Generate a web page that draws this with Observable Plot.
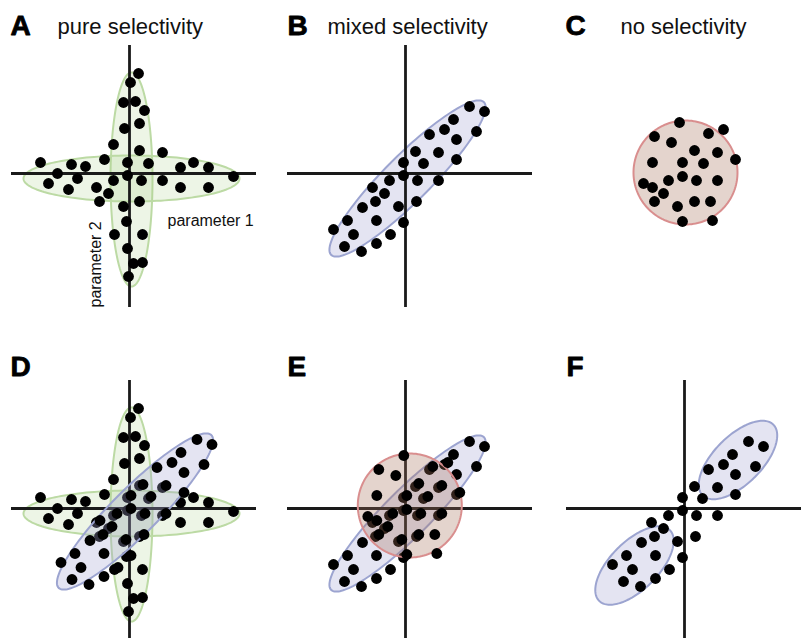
<!DOCTYPE html>
<html><head><meta charset="utf-8">
<script src="https://cdn.jsdelivr.net/npm/d3@7"></script>
<script src="https://cdn.jsdelivr.net/npm/@observablehq/plot@0.6"></script>
<style>
body{margin:0;background:#fff;}
#chart{position:relative;width:801px;height:638px;overflow:hidden;}
#chart svg{position:absolute;}
</style></head><body><div id="chart"></div>
<script>
// ---- text ----
const panelLetters = ["A", "B", "C", "D", "E", "F"];
const panelTitles = ["pure selectivity", "mixed selectivity", "no selectivity", "", "", ""];
const axisLabels = ["parameter 1", "parameter 2"];

// ---- responses (parameter 1, parameter 2) ----
const pureDots = [[9,100],[1,91],[-6,71],[6,72],[15,63],[10,50],[-5,45],[-16,29],[10,23],[33,21],
  [-89,11],[-58,9],[-44,7],[-25,14],[-2,11],[19,10],[51,6],[64,11],[79,6],[104,-3],
  [-72,0],[-52,-5],[-81,-10],[-61,-16],[-33,-14],[-16,-7],[-2,-2],[12,-7],[33,-7],[51,-14],
  [79,-14],[-21,-20],[-30,-28],[-6,-33],[10,-28],[-3,-48],[-15,-61],[13,-61],[-2,-75],[4,-90],
  [13,-89],[-1,-103]];
const mixedDots = [[64,67],[79,62],[48,54],[39,44],[24,39],[51,34],[71,42],[10,22],[33,21],[-2,11],
  [18,10],[51,14],[-2,-2],[-16,-7],[12,-7],[33,-7],[-33,-14],[-21,-20],[-30,-28],[-43,-34],
  [-7,-33],[11,-28],[-58,-47],[-29,-47],[-2,-49],[-72,-56],[-52,-61],[-15,-61],[-61,-73],[-44,-78],
  [-29,-70]];
const noneDots = [[-5,51],[39,44],[24,40],[-30,37],[-13,31],[10,23],[33,21],[51,14],[-32,11],[-2,11],
  [19,10],[-2,-3],[-16,-7],[12,-7],[33,-7],[-41,-10],[-32,-14],[-21,-20],[-30,-28],[-7,-33],
  [10,-28],[26,-28],[-2,-48],[28,-47]];

// ---- distributions: center, radii, rotation (deg) ----
const pureEllipses = [{cx:2, cy:-6, rx:21, ry:107, angle:0}, {cx:2, cy:-5, rx:108, ry:23, angle:0}];
const mixedEllipses = [{cx:2, cy:-5, rx:108, ry:23, angle:45}];
const noneEllipses = [{cx:1, cy:1, rx:52, ry:52, angle:0}];
const splitEllipses = [{cx:53.5, cy:48.5, rx:50, ry:24, angle:45}, {cx:-50, cy:-57, rx:50, ry:24, angle:45}];

// ---- axis extents ----
const axesTop = {x: [-118, 127], y: [-134, 128]};
const axesBottom = {x: [-118, 127], y: [-132, 128]};
const axesBottomRight = {x: [-118, 118], y: [-132, 128]};

// ---- styles ----
const green = {fill: "#a3cc84", fillOpacity: 0.2, stroke: "#bcdaa4"};
const blue = {fill: "#a5a5d4", fillOpacity: 0.3, stroke: "#9ca4d0"};
const red = {fill: "#a56f58", fillOpacity: 0.3, stroke: "#d98e8e"};

function ellipsePoints(e, id) {
  const pts = [], t = e.angle * Math.PI / 180, n = 160;
  for (let i = 0; i < n; i++) {
    const a = 2 * Math.PI * i / n;
    const u = e.rx * Math.cos(a), v = e.ry * Math.sin(a);
    pts.push({id, x: e.cx + u * Math.cos(t) - v * Math.sin(t), y: e.cy + u * Math.sin(t) + v * Math.cos(t)});
  }
  return pts;
}

const layout = [
  {cell:[0,0,270,340], origin:[129,173], axes:axesTop, letter:[10,34], title:[57,33], params:true,
   layers:[{ellipses:pureEllipses, style:green, dots:pureDots}]},
  {cell:[270,0,270,340], origin:[405,173], axes:axesTop, letter:[17,34], title:[57,33],
   layers:[{ellipses:mixedEllipses, style:blue, dots:mixedDots}]},
  {cell:[540,0,261,340], origin:[684,173], axes:null, letter:[25,34], title:[80,33],
   layers:[{ellipses:noneEllipses, style:red, dots:noneDots}]},
  {cell:[0,340,270,298], origin:[129,508], axes:axesBottom, letter:[10,35],
   layers:[{ellipses:pureEllipses, style:green, dots:pureDots},
           {ellipses:mixedEllipses, style:blue, dots:mixedDots, shift:[3.5,-2]}]},
  {cell:[270,340,270,298], origin:[405,508], axes:axesBottom, letter:[17,35],
   layers:[{ellipses:mixedEllipses, style:blue, dots:mixedDots},
           {ellipses:noneEllipses, style:red, dots:noneDots, shift:[3.3,-2]}]},
  {cell:[540,340,261,298], origin:[684,508], axes:axesBottomRight, letter:[26,35],
   layers:[{ellipses:splitEllipses, style:blue, dots:mixedDots}]}
];

const font = "Liberation Sans, Arial, Helvetica, sans-serif";
const chart = document.getElementById("chart");

layout.forEach((p, k) => {
  const [left, top, w, h] = p.cell;
  const [ox, oy] = p.origin;
  const marks = [];
  p.layers.forEach((L, i) => {
    const [sx, sy] = L.shift || [0, 0];
    const pts = L.ellipses.flatMap((e, j) => ellipsePoints(e, j));
    marks.push(Plot.line(pts, {x: "x", y: "y", z: "id", curve: "linear-closed",
      fill: L.style.fill, fillOpacity: L.style.fillOpacity, stroke: L.style.stroke,
      strokeWidth: 2, dx: sx, dy: sy}));
    if (i === 0 && p.axes) {
      marks.push(Plot.ruleY([0], {x1: p.axes.x[0], x2: p.axes.x[1], stroke: "#1a1a1a", strokeWidth: 2.8}));
      marks.push(Plot.ruleX([0], {y1: p.axes.y[0], y2: p.axes.y[1], stroke: "#1a1a1a", strokeWidth: 2.8}));
    }
    marks.push(Plot.dot(L.dots, {x: d => d[0], y: d => d[1], r: 5.4, fill: "#000", dx: sx, dy: sy}));
  });
  marks.push(Plot.text([panelLetters[k]], {text: d => d, frameAnchor: "top-left", dx: p.letter[0], dy: p.letter[1],
    textAnchor: "start", lineAnchor: "bottom", fontSize: 28, fontWeight: "bold", fill: "#000", fontFamily: font,
    stroke: "#000", strokeWidth: 0.8}));
  if (panelTitles[k]) {
    marks.push(Plot.text([panelTitles[k]], {text: d => d, frameAnchor: "top-left", dx: p.title[0], dy: p.title[1],
      textAnchor: "start", lineAnchor: "bottom", fontSize: 22, fill: "#111", fontFamily: font}));
  }
  if (p.params) {
    marks.push(Plot.text([axisLabels[0]], {text: d => d, frameAnchor: "top-left", dx: 167, dy: 225,
      textAnchor: "start", lineAnchor: "bottom", fontSize: 16, fill: "#111", fontFamily: font}));
    marks.push(Plot.text([axisLabels[1]], {text: d => d, frameAnchor: "top-left", dx: 100, dy: 307, rotate: -90,
      textAnchor: "start", lineAnchor: "bottom", fontSize: 16, fill: "#111", fontFamily: font}));
  }
  const svg = Plot.plot({
    width: w, height: h, margin: 0,
    x: {domain: [left - ox, left + w - ox], range: [0, w], axis: null},
    y: {domain: [oy - (top + h), oy - top], range: [h, 0], axis: null},
    style: {background: "transparent", fontFamily: font},
    marks
  });
  svg.style.left = left + "px";
  svg.style.top = top + "px";
  chart.appendChild(svg);
});
</script></body></html>
